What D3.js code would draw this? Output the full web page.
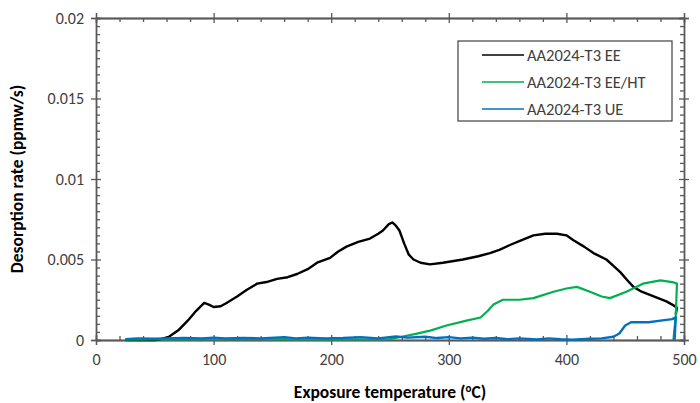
<!DOCTYPE html>
<html>
<head>
<meta charset="utf-8">
<script src="https://cdn.jsdelivr.net/npm/d3@7"></script>
<style>
  body { margin: 0; background: #fff; }
  svg text { font-family: Carlito, Lato, "Open Sans", sans-serif; }
</style>
</head>
<body>
<div id="chart"></div>
<script>
// values
const eeTemp = [25, 50, 55, 62, 70, 78, 85, 92, 96, 100, 106, 111, 120, 128, 137, 145, 154, 163, 171, 180, 188, 199, 206, 213, 223, 233, 240, 244, 249, 252, 255, 258, 262, 266, 270, 276, 284, 295, 312, 325, 335, 343, 352, 362, 372, 382, 392, 400, 406, 415, 423, 434, 440, 446, 452, 457, 464, 471, 478, 485, 490, 494, 493];
const eeRate = [0, 0, 0.00005, 0.0002, 0.0006, 0.0012, 0.0018, 0.0023, 0.0022, 0.00205, 0.0021, 0.0023, 0.0027, 0.0031, 0.0035, 0.0036, 0.0038, 0.0039, 0.0041, 0.0044, 0.0048, 0.0051, 0.0055, 0.0058, 0.0061, 0.0063, 0.0066, 0.0068, 0.0072, 0.0073, 0.0071, 0.0068, 0.0060, 0.0053, 0.0050, 0.0048, 0.0047, 0.0048, 0.0050, 0.0052, 0.0054, 0.0056, 0.0059, 0.0062, 0.0065, 0.0066, 0.0066, 0.0065, 0.0062, 0.0058, 0.0054, 0.0050, 0.0046, 0.0042, 0.0037, 0.0033, 0.0030, 0.0028, 0.0026, 0.0024, 0.0022, 0.0020, 0.0016];

const htTemp = [25, 50, 100, 150, 200, 250, 260, 273, 285, 298, 315, 327, 333, 338, 346, 360, 372, 389, 400, 409, 420, 430, 437, 451, 465, 480, 490, 494, 493, 491];
const htRate = [0.00002, 0.00003, 0.00005, 0.00005, 0.00003, 0.00005, 0.0002, 0.0004, 0.0006, 0.0009, 0.0012, 0.0014, 0.0018, 0.0022, 0.0025, 0.0025, 0.0026, 0.0030, 0.0032, 0.0033, 0.0030, 0.0027, 0.0026, 0.0030, 0.0035, 0.0037, 0.0036, 0.0035, 0.0015, 0];

const ueTemp = [25, 35, 50, 60, 75, 90, 100, 110, 125, 140, 160, 170, 180, 195, 210, 225, 240, 255, 265, 280, 290, 300, 310, 320, 330, 340, 350, 360, 375, 385, 395, 405, 420, 430, 440, 445, 450, 455, 470, 480, 490, 493, 492];
const ueRate = [0.00005, 0.0001, 0.00008, 0.0001, 0.00012, 0.0001, 0.00015, 0.0001, 0.00012, 0.0001, 0.00018, 0.0001, 0.00015, 0.0001, 0.00012, 0.00018, 0.0001, 0.00022, 0.00015, 0.0002, 0.00012, 0.00018, 0.0001, 0.00015, 0.00008, 0.00012, 0.00005, 0.0001, 0.00003, 0.0001, 0.00005, 0.00002, 0.00008, 0.0001, 0.0002, 0.0004, 0.0009, 0.0011, 0.0011, 0.0012, 0.0013, 0.0014, 0];

const seriesNames = ["AA2024-T3 EE", "AA2024-T3 EE/HT", "AA2024-T3 UE"];
const seriesColors = ["#000000", "#00b050", "#0070c0"];

const xTicks = [0, 100, 200, 300, 400, 500];
const yTicks = [0, 0.005, 0.01, 0.015, 0.02];
const yTickLabels = ["0", "0.005", "0.01", "0.015", "0.02"];

const width = 700, height = 403;
const margin = {top: 18, right: 16, bottom: 63, left: 96};

let svg = d3.select("#chart")
    .append("svg")
    .attr("width", width)
    .attr("height", height);

let x = d3.scaleLinear().domain([0, 500]).range([margin.left, width - margin.right]);
let y = d3.scaleLinear().domain([0, 0.02]).range([height - margin.bottom, margin.top]);

let xMinor = d3.range(0, 501, 20).filter(function(d) { return d % 100 != 0; });
let yMinor = d3.range(0, 41).map(function(i) { return i * 0.0005; }).filter(function(d, i) { return i % 10 != 0; });

const axisColor = "#595959";

function styleAxis(g) {
    g.select(".domain").attr("stroke", axisColor).attr("stroke-width", 1.3);
    g.selectAll(".tick line").attr("stroke", axisColor).attr("stroke-width", 1.3);
    g.selectAll("text").attr("fill", "#404040").style("font-size", "16px");
}

// bottom axis
svg.append("g")
    .attr("transform", `translate(0, ${y(0)})`)
    .call(d3.axisBottom(x).tickValues(xTicks).tickSize(5).tickPadding(9).tickFormat(d3.format("d")))
    .call(styleAxis);
svg.append("g")
    .attr("transform", `translate(0, ${y(0)})`)
    .call(d3.axisBottom(x).tickValues(xTicks).tickSize(-5).tickFormat(""))
    .call(styleAxis);
svg.append("g")
    .attr("transform", `translate(0, ${y(0)})`)
    .call(d3.axisBottom(x).tickValues(xMinor).tickSize(-4).tickFormat(""))
    .call(styleAxis);

// top axis
svg.append("g")
    .attr("transform", `translate(0, ${y(0.02)})`)
    .call(d3.axisTop(x).tickValues(xTicks).tickSize(5).tickFormat(""))
    .call(styleAxis);
svg.append("g")
    .attr("transform", `translate(0, ${y(0.02)})`)
    .call(d3.axisTop(x).tickValues(xTicks).tickSize(-5).tickFormat(""))
    .call(styleAxis);
svg.append("g")
    .attr("transform", `translate(0, ${y(0.02)})`)
    .call(d3.axisTop(x).tickValues(xMinor).tickSize(-4).tickFormat(""))
    .call(styleAxis);

// left axis
svg.append("g")
    .attr("transform", `translate(${x(0)}, 0)`)
    .call(d3.axisLeft(y).tickValues(yTicks).tickSize(5).tickPadding(7).tickFormat(function(d, i) { return yTickLabels[i]; }))
    .call(styleAxis);
svg.append("g")
    .attr("transform", `translate(${x(0)}, 0)`)
    .call(d3.axisLeft(y).tickValues(yTicks).tickSize(-5).tickFormat(""))
    .call(styleAxis);
svg.append("g")
    .attr("transform", `translate(${x(0)}, 0)`)
    .call(d3.axisLeft(y).tickValues(yMinor).tickSize(-4).tickFormat(""))
    .call(styleAxis);

// right axis
svg.append("g")
    .attr("transform", `translate(${x(500)}, 0)`)
    .call(d3.axisRight(y).tickValues(yTicks).tickSize(5).tickFormat(""))
    .call(styleAxis);
svg.append("g")
    .attr("transform", `translate(${x(500)}, 0)`)
    .call(d3.axisRight(y).tickValues(yTicks).tickSize(-5).tickFormat(""))
    .call(styleAxis);
svg.append("g")
    .attr("transform", `translate(${x(500)}, 0)`)
    .call(d3.axisRight(y).tickValues(yMinor).tickSize(-4).tickFormat(""))
    .call(styleAxis);

// lines
let line = d3.line()
    .x(function(d) { return x(d[0]); })
    .y(function(d) { return y(d[1]); });

let series = [
    {temp: eeTemp, rate: eeRate, width: 2.4},
    {temp: htTemp, rate: htRate, width: 2.2},
    {temp: ueTemp, rate: ueRate, width: 2.4}
];

series.forEach(function(s, i) {
    let pts = s.temp.map(function(t, j) { return [t, s.rate[j]]; });
    svg.append("path")
        .datum(pts)
        .attr("fill", "none")
        .attr("stroke", seriesColors[i])
        .attr("stroke-width", s.width)
        .attr("stroke-linejoin", "round")
        .attr("d", line);
});

// legend
let legend = svg.append("g").attr("transform", "translate(458, 41)");
legend.append("rect")
    .attr("width", 214)
    .attr("height", 80)
    .attr("fill", "#fff")
    .attr("stroke", "#404040")
    .attr("stroke-width", 1.2);

seriesNames.forEach(function(name, i) {
    let ly = 14 + i * 27;
    legend.append("line")
        .attr("x1", 24).attr("x2", 66)
        .attr("y1", ly).attr("y2", ly)
        .attr("stroke", seriesColors[i])
        .attr("stroke-width", 1.5);
    legend.append("text")
        .attr("x", 69)
        .attr("y", ly)
        .attr("dy", "0.35em")
        .attr("fill", "#404040")
        .style("font-size", "16.5px")
        .text(name);
});

// axis titles
svg.append("text")
    .attr("transform", `translate(23, ${(y(0) + y(0.02)) / 2}) rotate(-90)`)
    .style("text-anchor", "middle")
    .style("font-size", "17.5px")
    .style("font-weight", "bold")
    .attr("fill", "#000")
    .text("Desorption rate (ppmw/s)");

let xt = svg.append("text")
    .attr("x", (x(0) + x(500)) / 2)
    .attr("y", 398)
    .style("text-anchor", "middle")
    .style("font-size", "17.5px")
    .style("font-weight", "bold")
    .attr("fill", "#000");
xt.append("tspan").text("Exposure temperature (");
xt.append("tspan").attr("dy", -6).style("font-size", "11px").text("o");
xt.append("tspan").attr("dy", 6).text("C)");
</script>
</body>
</html>
